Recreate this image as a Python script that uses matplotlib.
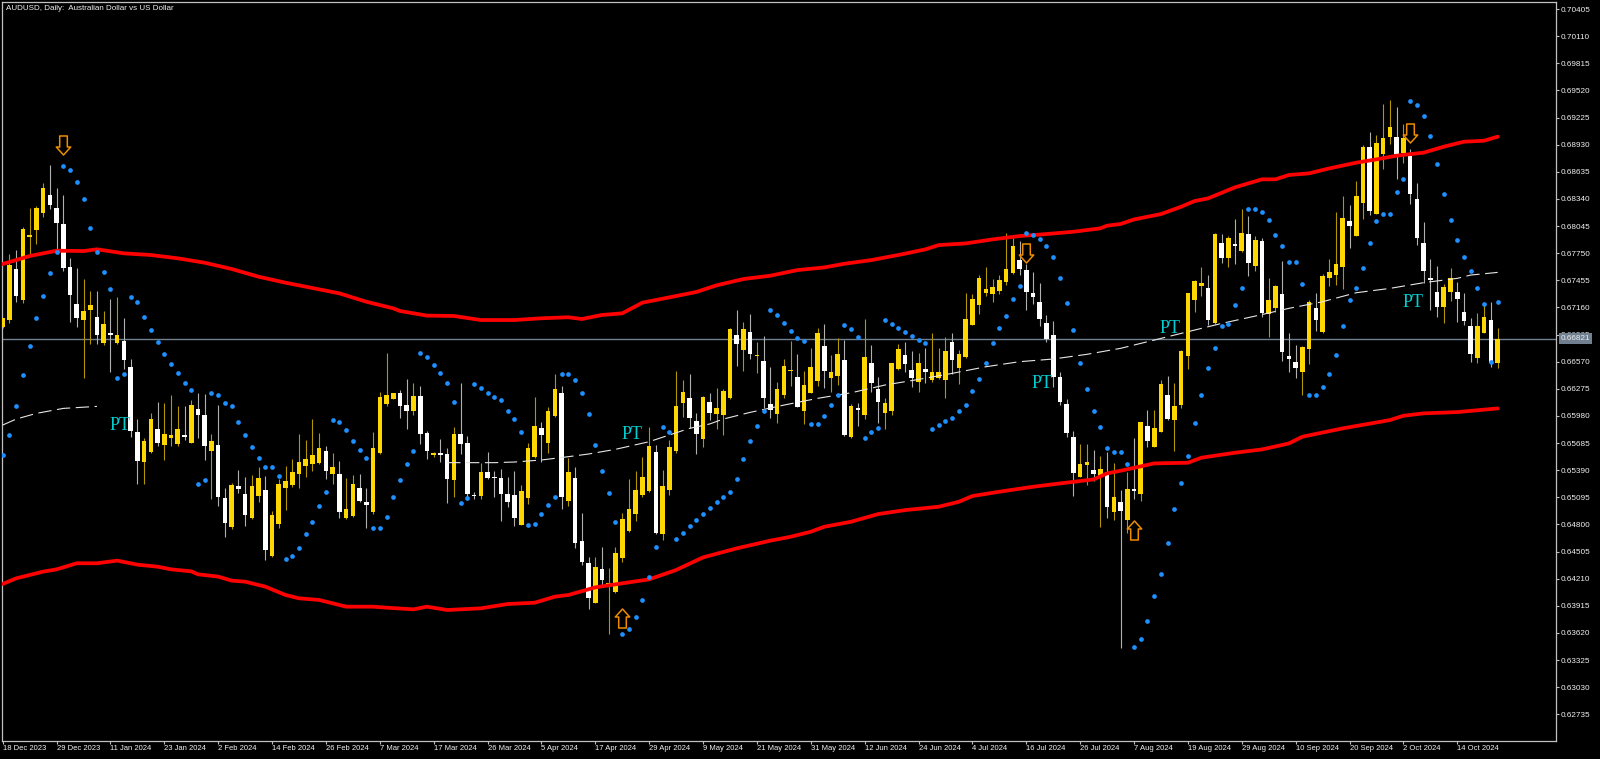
"""AUDUSD daily chart, MT4 look: candles, SAR dots, bands, dashed MA, PT tags and arrows."""
import numpy as np
import matplotlib
matplotlib.use("Agg")
import matplotlib.pyplot as plt
from matplotlib.path import Path

# prices in 5-digit points, divide by 1e5 below
opens = [
    66943,67023,67578,67240,67929,68002,68190,68382,68237,68067,
    67596,67197,67023,67132,67056,66776,66882,66769,66795,66508,
    65805,65475,65584,65838,65667,65740,65671,65769,65689,66051,
    65990,65602,65664,65091,64768,65218,65134,64870,65109,65174,
    64456,64804,65192,65232,65348,65435,65457,65464,65602,65348,
    65348,64866,64895,65192,65044,64932,65581,66106,66164,66233,
    66099,66034,66197,65795,65555,65573,65566,65283,65784,65682,
    65120,65113,65370,65320,65309,65128,65120,64798,65091,65537,
    65849,65682,65979,66226,65055,65309,64620,64384,63949,64312,
    64142,64062,64432,64732,64910,65117,65164,65584,64696,65175,
    65599,66117,66172,65925,65726,66132,65998,65990,66172,66856,
    66693,66892,66631,66580,66113,66000,66207,66468,66406,66033,
    66232,66356,66740,66392,66417,66588,65754,66066,65990,66551,
    66272,66008,66033,66486,66646,66479,66345,66490,66374,66396,
    66374,66783,66504,66624,66968,67186,67320,67305,67342,67436,
    67534,67675,67566,67313,67222,66994,66863,66406,66106,65754,
    65320,65447,65392,65327,65367,64935,65044,64852,65186,65127,
    65870,65645,65808,66207,65935,66098,66635,67244,67396,67371,
    66986,67864,67693,67846,67773,67954,67610,67882,67084,67153,
    67305,66628,66562,66457,66711,67150,66889,67479,67516,67603,
    68099,67940,68295,68900,68179,68824,69013,69009,68835,68810,
    68335,67864,67476,67324,67168,67331,67324,67114,66958,66606,
    66885,67023,66559]
highs = [
    67041,67737,67784,68031,68237,68263,68509,68709,68455,68386,
    67694,67585,67469,67338,67338,67121,67251,67277,67041,66599,
    65943,65743,66008,66128,66117,66207,66088,66088,66153,66233,
    66218,65783,66099,65192,65247,65392,65319,65337,65428,65326,
    64949,65290,65435,65508,65783,65718,65943,65790,65653,65573,
    65493,65301,65337,65345,65200,65802,66237,66661,66233,66262,
    66382,66342,66306,65813,65584,65726,65628,65860,66335,65762,
    65149,65465,65584,65378,65399,65320,65381,65229,65682,66182,
    65918,66081,66436,66306,65526,65428,64928,64442,64450,64558,
    64323,64551,64921,65291,65381,65530,65856,65664,65392,65718,
    66472,66371,66436,66008,66197,66226,66280,66269,66940,67131,
    67001,67088,66783,66849,66515,66352,66595,66794,66649,66472,
    66715,66939,66976,66638,66823,66805,66109,66124,67030,66751,
    66406,66171,66559,66762,66780,66689,66660,66718,66878,66718,
    66834,66878,66696,67320,67305,67512,67603,67469,67512,67972,
    67911,67882,67628,67541,67421,67073,67012,66454,66160,65812,
    65675,65675,65610,65544,65592,65465,65175,65374,65740,65917,
    66044,66044,66370,66417,66334,66696,67320,67458,67595,67512,
    67972,67954,67940,68121,68230,68154,67936,67911,67476,67403,
    67664,66885,66751,66744,67240,67313,67523,67682,68194,68375,
    68273,68534,68926,69071,69035,69368,69415,69335,69151,68879,
    68513,68092,67686,67606,67414,67585,67440,67313,67041,67095,
    67186,67222,66940]
lows = [
    66932,66987,67222,67211,67730,67849,68139,68234,67766,67556,
    67005,66950,66396,66758,66758,66751,66454,66762,66490,65754,
    65236,65236,65573,65653,65500,65653,65653,65718,65682,65743,
    65500,65073,65004,64667,64754,65145,64786,64862,65047,64414,
    64449,64765,64957,65210,65200,65319,65384,65457,65290,65239,
    64870,64855,64884,65047,64761,64914,65566,66088,66164,65954,
    65834,65990,65675,65508,65537,65476,65030,65102,65566,65066,
    65073,65080,65291,65102,64838,64993,64787,64794,65022,65526,
    65476,65581,65972,64968,65001,64540,64359,63881,63942,64142,
    63609,64058,64395,64722,64838,65102,65157,64696,64631,65120,
    65581,65972,65845,65566,65646,65936,65834,65772,66168,66526,
    66472,66602,66443,66062,65961,65906,66171,66309,66073,65888,
    66225,66309,66287,66243,66316,65765,65743,65870,65946,66243,
    65899,65834,65986,66479,66454,66298,66243,66341,66352,66381,
    66178,66432,66327,66613,66965,67084,67284,67222,67305,67403,
    67523,67512,67131,67197,66957,66787,66298,66098,65754,65109,
    65312,65229,65276,64776,64870,64848,63456,64703,65080,65058,
    65645,65638,65801,65935,65598,66062,66486,67113,67287,66965,
    66979,67646,67603,67628,67766,67501,67556,67059,66841,67113,
    66580,66461,66396,66207,66544,66903,66881,67396,67403,67360,
    67809,67936,68121,68165,68172,68661,68940,68552,68734,68284,
    67838,67429,67131,67059,66987,67233,67005,66969,66570,66559,
    66878,66515,66497]
closes = [
    67041,67621,67288,68013,67947,68237,68455,68274,68081,67585,
    67298,67041,67121,67186,66860,66983,66860,66856,66584,65819,
    65493,65711,65950,65689,65783,65769,65838,65754,66099,65993,
    65653,65703,65102,64819,65229,65181,64899,65218,65301,64522,
    64902,65236,65272,65370,65475,65511,65555,65631,65384,65428,
    64935,64964,65236,65058,65015,65628,66190,66208,66233,66088,
    66037,66197,65784,65599,65577,65555,65294,65784,65675,65128,
    65113,65374,65309,65302,65128,65048,64874,65164,65628,65871,
    65773,66034,66273,65102,65367,64595,64395,64004,64337,64192,
    64160,64486,64859,64968,65175,65316,65657,64703,65218,65639,
    66088,66244,65954,65780,66190,66016,66070,66255,66922,66765,
    66928,66649,66646,66171,66044,66272,66522,66483,66080,66312,
    66515,66881,66472,66461,66653,65772,66087,66044,66617,66341,
    66135,66120,66551,66707,66541,66396,66551,66454,66461,66454,
    66682,66588,66653,67037,67251,67476,67356,67385,67458,67574,
    67827,67574,67327,67269,67034,66816,66406,66131,65797,65355,
    65457,65483,65345,65399,64986,65099,64950,65182,65164,65910,
    65707,65848,66327,65942,66087,66689,67313,67450,67425,67023,
    67954,67693,67914,67831,67972,67639,67893,67095,67240,67396,
    66678,66595,66504,66729,67218,67023,67505,67545,67635,68132,
    68041,68368,68908,68212,68944,68998,69118,68824,68998,68389,
    67918,67556,67458,67168,67385,67483,67248,67016,66653,66958,
    67056,66552,66816]
sar = [
    65555,65772,66088,66425,66744,67048,67288,67530,67766,68701,
    68654,68520,68339,68027,67766,67549,67356,66396,66432,67273,
    67219,67056,66918,66780,66650,66541,66443,66341,66258,65239,
    65279,66233,66211,66120,66091,65917,65772,65642,65526,65424,
    65424,65323,64420,64456,64547,64692,64823,65004,65149,65935,
    65910,65827,65707,65606,65519,64765,64765,64885,65095,65287,
    65454,65599,66661,66625,66534,66451,66342,66132,65030,65088,
    66331,66284,66230,66186,66150,66037,65947,65809,64794,64801,
    64910,65012,65102,66436,66436,66371,66230,66001,65664,65381,
    65142,64830,63612,63667,63797,63978,64225,64555,65860,65809,
    64638,64711,64783,64848,64914,64975,65041,65095,65149,65297,
    65515,65707,65874,66029,67128,67081,66990,66899,66827,66791,
    65892,65892,65982,66102,66203,66972,66925,66834,65743,65801,
    65845,67026,66983,66936,66889,66852,66805,66769,65837,65881,
    65921,65957,66029,66102,66247,66377,66559,66769,66936,67063,
    67247,67392,67969,67943,67904,67831,67704,67483,67208,66918,
    66559,66269,66037,65855,65634,65591,65591,65461,63467,63558,
    63750,64026,64261,64602,64968,65251,65544,65900,66211,66497,
    66715,66961,66979,67182,67367,68226,68226,68197,68107,67951,
    67824,67657,67657,67411,66211,66211,66294,66439,66642,66954,
    67237,67367,67592,67860,68096,68172,68179,68418,68556,69408,
    69361,69245,69024,68719,68393,68110,67889,67704,67556,67367,
    67201,66563,67219]

upper_idx = [0,4,8,12,14,18,22,26,30,34,38,42,46,50,54,58,59,63,67,71,76,80,84,86,89,92,95,100,103,
             106,110,114,118,122,125,129,133,137,139,143,147,151,155,159,163,164,166,168,172,175,177,
             179,183,187,189,191,194,197,201,204,207,211,214,217,220,222]
upper = [67632,67719,67777,67773,67792,67748,67730,67694,67646,67578,67494,67429,67371,67313,67222,67150,
         67121,67071,67067,67023,67023,67042,67053,67034,67078,67096,67212,67284,67328,
         67400,67469,67505,67566,67595,67635,67675,67730,67791,67838,67856,67900,67936,67958,67983,68020,
         68049,68067,68117,68175,68255,68317,68346,68466,68553,68553,68600,68618,68672,68734,68770,68810,
         68843,68908,68962,68973,69017]
lower_idx = [0,2,6,8,11,14,17,20,23,25,28,29,32,34,36,39,42,44,47,51,55,57,61,63,66,71,75,79,82,84,88,92,
             96,100,104,109,114,117,120,122,126,130,134,139,142,144,148,153,157,162,164,166,171,176,178,
             183,187,191,193,199,206,208,211,216,222]
lower = [64153,64214,64287,64312,64378,64378,64407,64363,64341,64312,64290,64258,64233,64189,64178,64124,
         64033,63997,63979,63906,63906,63895,63877,63906,63870,63888,63935,63949,64015,64033,64116,64160,
         64203,64305,64442,64540,64624,64666,64721,64775,64830,64913,64956,64993,65047,65109,65156,65210,
         65246,65290,65355,65384,65464,65471,65526,65580,65616,65681,65754,65845,65935,65982,66008,66022,66062]
ma_left_idx = [0,2,5,9,14]
ma_left = [65881,65946,66008,66062,66084]
ma_right_idx = [66,73,76,78,80,84,87,91,96,99,102,105,107,111,116,121,126,131,136,141,146,151,156,161,166,
                171,176,181,186,191,196,201,206,211,216,218,222]
ma_right = [65472,65472,65479,65490,65501,65537,65566,65617,65700,65773,65845,65893,65946,66019,66098,66171,
            66232,66316,66377,66443,66515,66570,66599,66650,66715,66805,66896,66986,67066,67150,67222,67320,
            67367,67429,67476,67512,67541]

pt_idx = [17.4, 93.4, 154.4, 173.3, 209.4]
pt_price = [65881, 65773, 66334, 66932, 67215]
down_idx = [9, 152, 209]
down_price = [68923, 67751, 69053]
up_idx = [92, 168]
up_price = [63783, 64736]

last_price = 0.66821
price_ticks = [0.62735 + 0.00295 * k for k in range(27)]
date_labels = ["18 Dec 2023", "29 Dec 2023", "11 Jan 2024", "23 Jan 2024", "2 Feb 2024", "14 Feb 2024",
               "26 Feb 2024", "7 Mar 2024", "17 Mar 2024", "26 Mar 2024", "5 Apr 2024", "17 Apr 2024",
               "29 Apr 2024", "9 May 2024", "21 May 2024", "31 May 2024", "12 Jun 2024", "24 Jun 2024",
               "4 Jul 2024", "16 Jul 2024", "26 Jul 2024", "7 Aug 2024", "19 Aug 2024", "29 Aug 2024",
               "10 Sep 2024", "20 Sep 2024", "2 Oct 2024", "14 Oct 2024"]

GOLD, GOLD_WICK = "#FFD700", "#B39600"
WHITE_WICK = "#B0B0B0"
FRAME = "#C0C0C0"
W, H = 1600, 759
L, R, T, B = 2, 1556, 2, 741      # plot frame in pixels
BAR = 6.734                       # pixels per bar

o, h, l, c = [np.array(a) / 1e5 for a in (opens, highs, lows, closes)]
x = np.arange(len(o))
bull = c >= o

fig = plt.figure(figsize=(W / 100, H / 100), dpi=100, facecolor="black")
ax = fig.add_axes([L / W, 1 - B / H, (R - L) / W, (B - T) / H], facecolor="black")
ax.set_xlim((L - 2.7) / BAR, (R - 2.7) / BAR)
ax.set_ylim(0.70503 - B * 0.00010874, 0.70503 - T * 0.00010874)

ax.axhline(last_price, color="#708090", lw=1.0, zorder=1)

# candles
ax.vlines(x[bull], l[bull], h[bull], color=GOLD_WICK, lw=0.8, zorder=2)
ax.vlines(x[~bull], l[~bull], h[~bull], color=WHITE_WICK, lw=0.8, zorder=2)
bw = 4.6 / BAR
ax.bar(x[bull], (c - o)[bull], bottom=o[bull], width=bw, color=GOLD, lw=0, zorder=3)
ax.bar(x[~bull], (o - c)[~bull], bottom=c[~bull], width=bw, color="white", lw=0, zorder=3)

# bands, MA, SAR
ax.plot(upper_idx, np.array(upper) / 1e5, color="#FF0000", lw=2.7, zorder=5, solid_capstyle="round")
ax.plot(lower_idx, np.array(lower) / 1e5, color="#FF0000", lw=2.7, zorder=5, solid_capstyle="round")
for a, b in [(ma_left_idx, ma_left), (ma_right_idx, ma_right)]:
    ax.plot(a, np.array(b) / 1e5, color="#E6E6E6", lw=0.8, ls=(0, (12, 5)), zorder=6)
ax.scatter(x, np.array(sar) / 1e5, s=11.5, color="#1E90FF", linewidths=0, zorder=7)

# PT tags
for i, p in zip(pt_idx, pt_price):
    ax.text(i, p / 1e5, "PT", color="#00CED1", fontsize=13, family="Liberation Serif",
            ha="center", va="center", zorder=8)

# hollow arrows
dn = Path([(-3.8, 9.5), (3.8, 9.5), (3.8, -1.5), (7.2, -1.5), (0, -9.5), (-7.2, -1.5), (-3.8, -1.5), (-3.8, 9.5)], closed=True)
up = Path([(-3.8, -9.5), (3.8, -9.5), (3.8, 1.5), (7.2, 1.5), (0, 9.5), (-7.2, 1.5), (-3.8, 1.5), (-3.8, -9.5)], closed=True)
for a, b, m in [(down_idx, down_price, dn), (up_idx, up_price, up)]:
    ax.plot(a, np.array(b) / 1e5, ls="none", marker=m, ms=13.7, mfc="none", mec="#F08C00", mew=1.1, zorder=9)

# frame and axes
for s in ax.spines.values():
    s.set_color(FRAME); s.set_linewidth(0.9)
ax.yaxis.tick_right()
ax.set_yticks(price_ticks)
ax.set_yticklabels([f"{v:.5f}" for v in price_ticks])
ax.set_xticks(np.arange(len(date_labels)) * 8)
ax.set_xticklabels(date_labels, ha="left")
ax.tick_params(axis="both", colors=FRAME, labelcolor="#F0F0F0", length=2.4, width=0.8,
               labelsize=5.9, labelfontfamily="Liberation Sans")
ax.tick_params(axis="y", pad=1.0)
ax.tick_params(axis="x", pad=0.8, labelsize=5.5)

# price tag on top of the tick labels
ax.annotate(f"{last_price:.5f}", xy=(1, last_price), xycoords=("axes fraction", "data"),
            xytext=(3.2, 0), textcoords="offset points", va="center", ha="left", fontsize=5.9,
            family="Liberation Sans", color="#E8ECF0", annotation_clip=False, zorder=20,
            bbox=dict(boxstyle="square,pad=0.22", fc="#708090", ec="none"))

ax.text(6 / W, 1 - 8 / H, "AUDUSD, Daily:  Australian Dollar vs US Dollar", transform=fig.transFigure,
        color="#F0F0F0", fontsize=5.75, family="Liberation Sans", va="center", ha="left", zorder=20)

fig.savefig("out.png", dpi=100, facecolor="black")
